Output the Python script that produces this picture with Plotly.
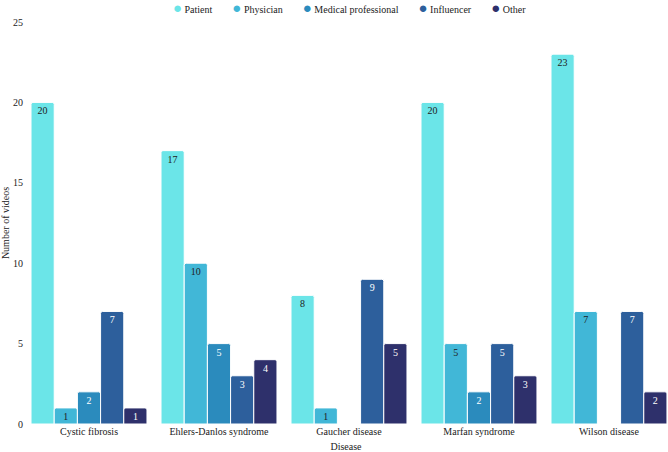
import plotly.graph_objects as go

diseases = ["Cystic fibrosis", "Ehlers-Danlos syndrome", "Gaucher disease", "Marfan syndrome", "Wilson disease"]
patient = [20, 17, 8, 20, 23]
physician = [1, 10, 1, 5, 7]
medical_professional = [2, 5, None, 2, None]
influencer = [7, 3, 9, 5, 7]
other = [1, 4, 5, 3, 2]

series = [
    ("Patient", patient, "#6be5e8", "#222222"),
    ("Physician", physician, "#41b7d7", "#222222"),
    ("Medical professional", medical_professional, "#2b8bbd", "#ffffff"),
    ("Influencer", influencer, "#2d5f9c", "#ffffff"),
    ("Other", other, "#2e306b", "#ffffff"),
]

font_family = "Liberation Serif"
fig = go.Figure()
for name, vals, color, tcolor in series:
    fig.add_trace(go.Bar(
        x=diseases, y=vals, name=name, showlegend=False,
        marker=dict(color=color, line=dict(color="white", width=1)),
        text=[("" if v is None else str(v)) for v in vals],
        textposition="inside", insidetextanchor="end", textangle=0,
        textfont=dict(color=tcolor, size=10, family=font_family),
        constraintext="none",
    ))

sep = "&nbsp;" * 8
legend_html = sep.join(
    f'<span style="color:{c};font-size:15px">●</span>&nbsp;{n}' for n, _, c, _ in series
)
fig.add_annotation(
    text=legend_html, xref="paper", yref="paper", x=0.505, y=1.036,
    xanchor="center", yanchor="middle", showarrow=False,
    font=dict(size=10, family=font_family, color="#222222"),
)

fig.update_layout(
    width=668, height=452,
    margin=dict(l=24, r=0, t=22, b=28, autoexpand=False),
    plot_bgcolor="white", paper_bgcolor="white",
    barmode="group", bargap=0.108, bargroupgap=0.0,
    barcornerradius=2,
    font=dict(family=font_family, size=10, color="#222222"),
    showlegend=False,
    xaxis=dict(title=dict(text="Disease", standoff=8, font=dict(size=10)),
               range=[-0.5, 4.454],
               showgrid=False, showline=False, ticks="", tickfont=dict(size=10)),
    yaxis=dict(title=dict(text="Number of videos", standoff=6, font=dict(size=10)),
               range=[0, 25], dtick=5, showgrid=False, showline=False, zeroline=False,
               ticks="", tickfont=dict(size=10)),
)
fig.write_html("out.html")
